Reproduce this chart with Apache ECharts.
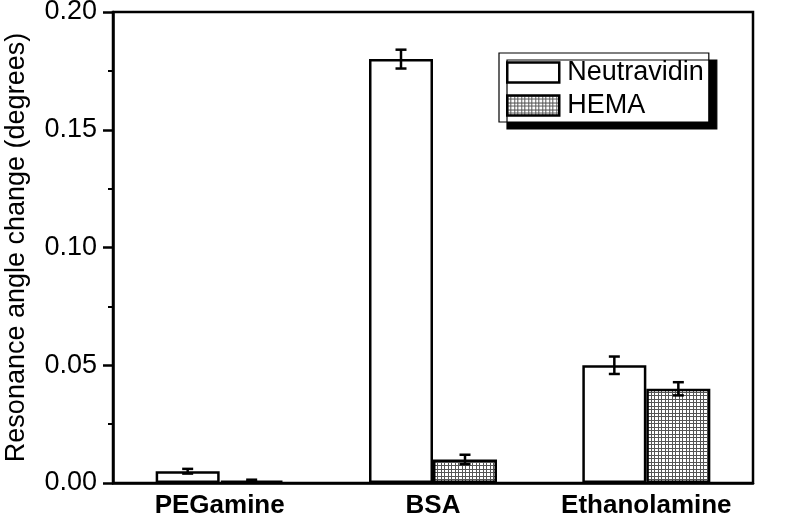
<!DOCTYPE html>
<html>
<head>
<meta charset="utf-8">
<script src="https://cdn.jsdelivr.net/npm/echarts@6/dist/echarts.min.js"></script>
<style>
  html,body{margin:0;padding:0;background:#fff;}
  #chart{width:800px;height:521px;}
</style>
</head>
<body>
<div id="chart"></div>
<script>
const categories = ['PEGamine', 'BSA', 'Ethanolamine']
const neutravidin = [0.005, 0.180, 0.050]
const neutravidinErr = [0.001, 0.004, 0.0037]
const hema = [0.001, 0.010, 0.040]
const hemaErr = [0.0004, 0.002, 0.0028]
const yTicks = [0, 0.05, 0.10, 0.15, 0.20]

const font = 'Liberation Sans, Arial, sans-serif'

// grid hatch for HEMA
const hatch = document.createElement('canvas')
hatch.width = 7
hatch.height = 7
const hc = hatch.getContext('2d')
hc.fillStyle = '#fff'
hc.fillRect(0, 0, 7, 7)
hc.fillStyle = '#555'
hc.fillRect(0, 0, 7, 1)
hc.fillRect(0, 3, 7, 1)
hc.fillRect(0, 0, 1, 7)
hc.fillRect(3, 0, 1, 7)

function errData(vals, errs){
    return vals.map((v, i) => [i, v, errs[i]])
}

function errRender(side){
    return function(params, api){
        const x = api.value(0)
        const v = api.value(1)
        const e = api.value(2)
        const bw = api.size([1, 0])[0]
        const top = api.coord([x, v + e])
        const bot = api.coord([x, v - e])
        const px = top[0] + side * bw * 0.15
        const cap = 5.5
        const style = {stroke: '#000', lineWidth: 2.5}
        return {
            type: 'group',
            children: [
                {type: 'line', shape: {x1: px, y1: top[1], x2: px, y2: bot[1]}, style: style},
                {type: 'line', shape: {x1: px - cap, y1: top[1], x2: px + cap, y2: top[1]}, style: style},
                {type: 'line', shape: {x1: px - cap, y1: bot[1], x2: px + cap, y2: bot[1]}, style: style}
            ]
        }
    }
}

const chart = echarts.init(document.getElementById('chart'))
chart.setOption({
    animation: false,
    grid: {
        left: 113, right: 47, top: 12, bottom: 38,
        outerBoundsMode: 'none',
        show: true, borderColor: '#000', borderWidth: 2.5
    },
    legend: {
        data: ['Neutravidin', 'HEMA'],
        orient: 'vertical',
        left: 499, top: 53,
        padding: [6, 5, 3, 7],
        icon: 'rect',
        itemWidth: 52, itemHeight: 20, itemGap: 6,
        backgroundColor: '#fff',
        borderColor: '#000', borderWidth: 1.2, borderRadius: 0,
        shadowColor: '#000', shadowBlur: 0, shadowOffsetX: 8, shadowOffsetY: 7,
        textStyle: {fontFamily: font, fontSize: 27, color: '#000', padding: [0, 0, 0, 3]},
        itemStyle: {borderColor: '#000', borderWidth: 2.5}
    },
    xAxis: {
        type: 'category',
        data: categories,
        axisLine: {lineStyle: {color: '#000', width: 2.5}},
        axisTick: {show: false},
        axisLabel: {interval: 0, fontFamily: font, fontSize: 26, fontWeight: 'bold', color: '#000', margin: 10}
    },
    yAxis: {
        type: 'value',
        min: yTicks[0], max: yTicks[yTicks.length - 1], interval: 0.05,
        name: 'Resonance angle change (degrees)',
        nameLocation: 'middle', nameGap: 83,
        nameTextStyle: {fontFamily: font, fontSize: 27, color: '#000'},
        axisLine: {show: true, lineStyle: {color: '#000', width: 2.5}},
        axisTick: {show: true, inside: false, length: 10, lineStyle: {color: '#000', width: 2.5}},
        minorTick: {show: true, splitNumber: 2, length: 5, lineStyle: {color: '#000', width: 2}},
        splitLine: {show: false},
        axisLabel: {fontFamily: font, fontSize: 27, color: '#000', margin: 16,
            formatter: v => v.toFixed(2)}
    },
    series: [
        {
            name: 'Neutravidin', type: 'bar', data: neutravidin,
            barWidth: '30%', barGap: '0%',
            itemStyle: {color: '#fff', borderColor: '#000', borderWidth: 2.5}
        },
        {
            name: 'HEMA', type: 'bar', data: hema,
            barWidth: '30%', barGap: '0%',
            itemStyle: {color: {image: hatch, repeat: 'repeat'}, borderColor: '#000', borderWidth: 2.5}
        },
        {type: 'custom', data: errData(neutravidin, neutravidinErr), renderItem: errRender(-1), z: 10},
        {type: 'custom', data: errData(hema, hemaErr), renderItem: errRender(1), z: 10}
    ]
})
</script>
</body>
</html>
